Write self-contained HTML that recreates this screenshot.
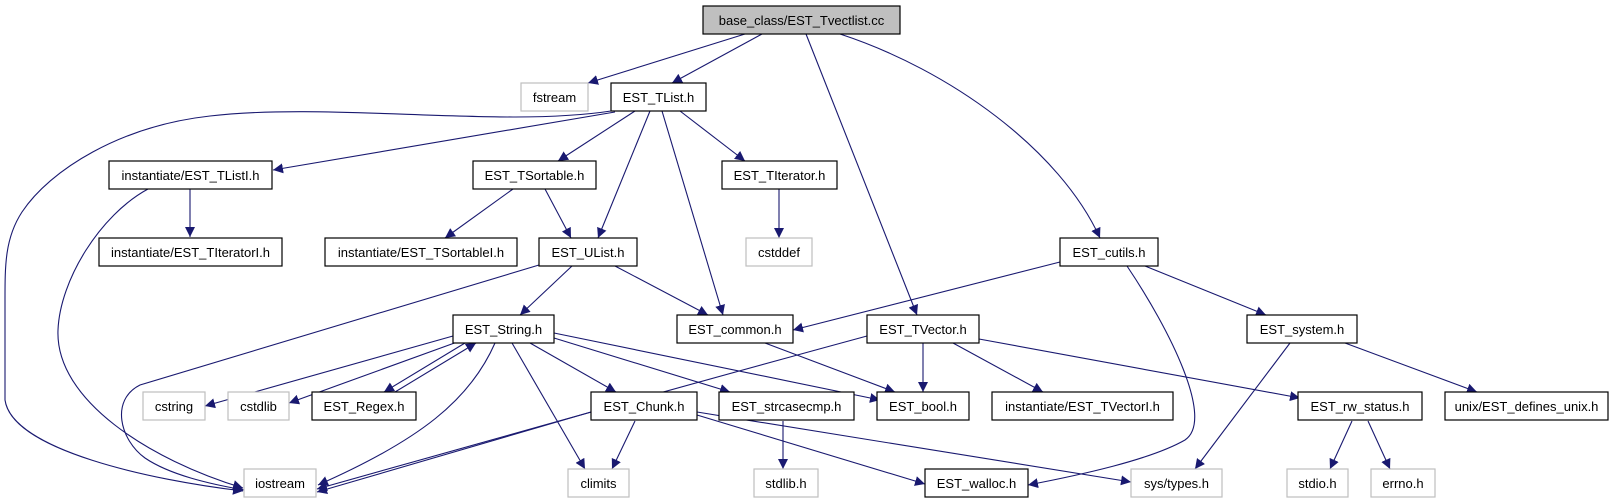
<!DOCTYPE html>
<html><head><meta charset="utf-8"><style>
html,body{margin:0;padding:0;background:#fff;}
svg{display:block;}
text{font-family:"Liberation Sans",Arial,sans-serif;font-size:13px;fill:#000;}
</style></head><body>
<svg width="1613" height="504" viewBox="0 0 1613 504" xmlns="http://www.w3.org/2000/svg">
<defs>
<marker id="a" viewBox="0 0 10 10" refX="10" refY="5" markerWidth="10" markerHeight="10" markerUnits="userSpaceOnUse" orient="auto">
<path d="M0,0 L10,5 L0,10 z" fill="#191970"/>
</marker>
</defs>
<g fill="none" stroke="#191970" stroke-width="1.1" marker-end="url(#a)">
<path d="M745,34 L588,83"/>
<path d="M762,34 L672,83"/>
<path d="M806,34 L917,315"/>
<path d="M840,34 C950,70 1060,150 1100,238"/>
<path d="M611,111 C500,128 330,102 210,116 C120,126 50,170 22,212 C5,238 5,265 5,300 L5,400 C12,450 150,480 243,491"/>
<path d="M615,112 L273,170"/>
<path d="M635,111 L558,161"/>
<path d="M650,111 L598,238"/>
<path d="M662,111 L723,315"/>
<path d="M680,111 L745,161"/>
<path d="M148,189 C100,215 60,280 58,330 C55,400 150,460 243,488"/>
<path d="M190,189 L190,237"/>
<path d="M513,189 L445,238"/>
<path d="M545,189 L571,238"/>
<path d="M779,189 L779,238"/>
<path d="M539,265 L140,385 C110,400 120,440 145,458 C170,475 210,484 244,490"/>
<path d="M572,266 L520,315"/>
<path d="M615,266 L708,315"/>
<path d="M1060,262 L793,330"/>
<path d="M1127,266 C1170,330 1215,420 1185,440 C1150,460 1080,475 1028,485"/>
<path d="M1145,266 L1266,315"/>
<path d="M867,336 Q650,395 317,489"/>
<path d="M923,343 L923,392"/>
<path d="M953,343 L1043,392"/>
<path d="M979,339 L1300,398"/>
<path d="M1290,343 L1195,469"/>
<path d="M1345,343 L1477,392"/>
<path d="M1352,421 L1330,469"/>
<path d="M1368,421 L1390,469"/>
<path d="M765,343 L895,392"/>
<path d="M453,336 L205,406"/>
<path d="M460,341 L289,403"/>
<path d="M465,343 L384,392"/>
<path d="M395,392 L476,343"/>
<path d="M495,343 C470,400 420,440 318,485"/>
<path d="M512,343 L585,469"/>
<path d="M530,343 L616,392"/>
<path d="M554,338 L730,392"/>
<path d="M554,333 L880,400"/>
<path d="M591,412 L317,492"/>
<path d="M635,421 L612,469"/>
<path d="M697,415 L925,484"/>
<path d="M697,412 L1131,482"/>
<path d="M783,421 L783,469"/>
</g>
<g stroke-width="1.2">
<g fill="#fff" stroke="#000">
<rect x="611" y="83" width="95" height="28"/>
<rect x="109" y="161" width="163" height="28"/>
<rect x="473" y="161" width="123" height="28"/>
<rect x="722" y="161" width="115" height="28"/>
<rect x="99" y="238" width="183" height="28"/>
<rect x="325" y="238" width="192" height="28"/>
<rect x="539" y="238" width="98" height="28"/>
<rect x="1060" y="238" width="98" height="28"/>
<rect x="453" y="315" width="101" height="28"/>
<rect x="677" y="315" width="116" height="28"/>
<rect x="867" y="315" width="112" height="28"/>
<rect x="1247" y="315" width="110" height="28"/>
<rect x="312" y="392" width="104" height="28"/>
<rect x="591" y="392" width="106" height="28"/>
<rect x="719" y="392" width="135" height="28"/>
<rect x="877" y="392" width="92" height="28"/>
<rect x="992" y="392" width="181" height="28"/>
<rect x="1298" y="392" width="124" height="28"/>
<rect x="1445" y="392" width="163" height="28"/>
<rect x="925" y="469" width="103" height="28"/>
</g>
<g fill="#fff" stroke="#bfbfbf">
<rect x="521" y="83" width="67" height="28"/>
<rect x="746" y="238" width="66" height="28"/>
<rect x="143" y="392" width="62" height="28"/>
<rect x="228" y="392" width="61" height="28"/>
<rect x="244" y="469" width="72" height="28"/>
<rect x="568" y="469" width="61" height="28"/>
<rect x="754" y="469" width="64" height="28"/>
<rect x="1131" y="469" width="91" height="28"/>
<rect x="1287" y="469" width="61" height="28"/>
<rect x="1371" y="469" width="64" height="28"/>
</g>
<rect x="703" y="6" width="197" height="28" fill="#bfbfbf" stroke="#000"/>
</g>
<g text-anchor="middle">
<text x="801.5" y="25">base_class/EST_Tvectlist.cc</text>
<text x="554.5" y="102">fstream</text>
<text x="658.5" y="102">EST_TList.h</text>
<text x="190.5" y="180">instantiate/EST_TListI.h</text>
<text x="534.5" y="180">EST_TSortable.h</text>
<text x="779.5" y="180">EST_TIterator.h</text>
<text x="190.5" y="257">instantiate/EST_TIteratorI.h</text>
<text x="421" y="257">instantiate/EST_TSortableI.h</text>
<text x="588" y="257">EST_UList.h</text>
<text x="779" y="257">cstddef</text>
<text x="1109" y="257">EST_cutils.h</text>
<text x="503.5" y="334">EST_String.h</text>
<text x="735" y="334">EST_common.h</text>
<text x="923" y="334">EST_TVector.h</text>
<text x="1302" y="334">EST_system.h</text>
<text x="174" y="411">cstring</text>
<text x="258.5" y="411">cstdlib</text>
<text x="364" y="411">EST_Regex.h</text>
<text x="644" y="411">EST_Chunk.h</text>
<text x="786.5" y="411">EST_strcasecmp.h</text>
<text x="923" y="411">EST_bool.h</text>
<text x="1082.5" y="411">instantiate/EST_TVectorI.h</text>
<text x="1360" y="411">EST_rw_status.h</text>
<text x="1526.5" y="411">unix/EST_defines_unix.h</text>
<text x="280" y="488">iostream</text>
<text x="598.5" y="488">climits</text>
<text x="786" y="488">stdlib.h</text>
<text x="976.5" y="488">EST_walloc.h</text>
<text x="1176.5" y="488">sys/types.h</text>
<text x="1317.5" y="488">stdio.h</text>
<text x="1403" y="488">errno.h</text>
</g>
</svg>
</body></html>
